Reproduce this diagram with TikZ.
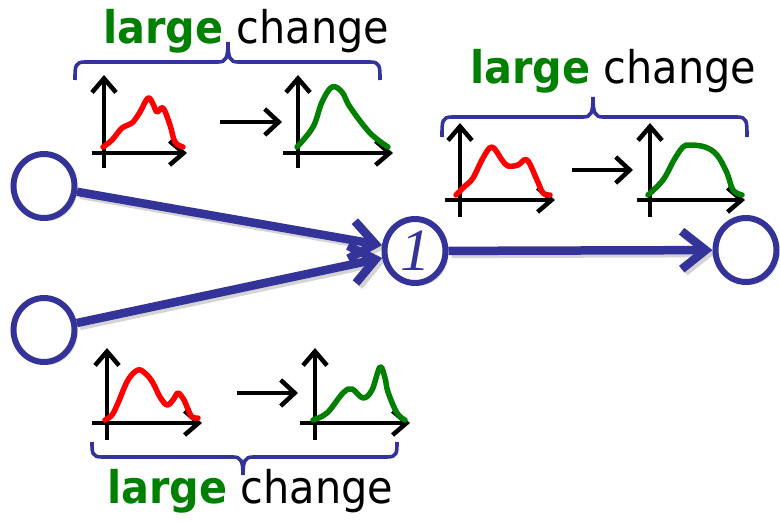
\documentclass[tikz,border=0pt]{standalone}
\usepackage{fontspec}
\usetikzlibrary{arrows.meta,shapes.geometric,shadows}
\newfontfamily\labfont{DejaVu Sans}
\newfontfamily\numfont{Liberation Serif}
\definecolor{nblue}{RGB}{51,51,153}
\definecolor{dgreen}{RGB}{0,128,0}
\definecolor{shade}{RGB}{212,212,212}
\pgfdeclarelayer{bg}
\pgfsetlayers{bg,main}
\tikzset{
  neuron/.style={ellipse, draw=nblue, line width=6pt, fill=white,
    minimum width=61pt, minimum height=64pt, inner sep=0pt,
    drop shadow={opacity=0.25, shadow xshift=3pt, shadow yshift=-3pt}},
  conn/.style={draw=nblue, line width=8.5pt, -{Straight Barb[length=24pt,width=38pt]}},
  connshadow/.style={draw=shade, line width=8.5pt, -{Straight Barb[length=24pt,width=38pt]},
    transform canvas={shift={(3pt,-3pt)}}},
  ax/.style={draw=black, line width=4.5pt, -{Straight Barb[length=14pt,width=24pt]}},
  chg/.style={draw=black, line width=4.5pt, -{Straight Barb[length=14pt,width=26pt]}},
  redc/.style={draw=red, line width=5.5pt, line cap=round, line join=round},
  grnc/.style={draw=dgreen, line width=5.5pt, line cap=round, line join=round},
  bracepath/.style={draw=nblue, line width=3.6pt},
  lab/.style={anchor=base west, inner sep=0pt, font=\labfont\fontsize{45}{50}\selectfont}
}
\newcommand{\lgchg}{\scalebox{0.92}[1]{\textcolor{dgreen}{\bfseries large} change}}
\begin{document}
\begin{tikzpicture}[x=1pt,y=-1pt]
\useasboundingbox (0,0) rectangle (780,522);
% neurons
\node[neuron] (in1) at (44,186) {};
\node[neuron] (in2) at (44,330) {};
\node[neuron] (mid) at (415,251) {\numfont\itshape\fontsize{60}{60}\selectfont\color{nblue}1};
\node[neuron] (out) at (746,250) {};
% connector shadows
\begin{pgfonlayer}{bg}
\draw[connshadow] (in1) -- (mid);
\draw[connshadow] (in2) -- (mid);
\draw[connshadow] (mid) -- (out);
\end{pgfonlayer}
% connectors
\draw[conn] (in1) -- (mid);
\draw[conn] (in2) -- (mid);
\draw[conn] (mid) -- (out);

% ---- top-left group ----
\draw[ax] (104,168) -- (104,75);
\draw[ax] (92,153) -- (187,153);
\draw[redc] plot[smooth,tension=0.6] coordinates {(103,147) (112,140) (122,128) (132,123) (140,112) (148,98) (153,104) (157,112) (163,108) (170,125) (175,142) (183,147)};
\draw[chg] (220,122) -- (282,122);
\draw[ax] (298,168) -- (298,75);
\draw[ax] (283,153) -- (393,153);
\draw[grnc] plot[smooth,tension=0.6] coordinates {(297,147) (313,127) (322,102) (332,87) (342,92) (350,107) (370,133) (388,147)};
\draw[bracepath] (75,80) .. controls (75,66) and (75,62) .. (85,62) -- (218,62) .. controls (226,62) and (228,58) .. (228,42) .. controls (228,58) and (230,62) .. (238,62) -- (370,62) .. controls (380,62) and (380,66) .. (380,80);
\node[lab] (t1) at (103,43) {\lgchg};

% ---- top-right group ----
\draw[ax] (460,217) -- (460,123);
\draw[ax] (445,200) -- (555,200);
\draw[redc] plot[smooth,tension=0.6] coordinates {(456,195) (465,186) (473,178) (483,158) (492,147) (502,160) (508,166) (518,165) (527,160) (537,180) (543,193) (550,195)};
\draw[chg] (572,170) -- (633,170);
\draw[ax] (650,217) -- (650,123);
\draw[ax] (637,200) -- (745,200);
\draw[grnc] plot[smooth,tension=0.6] coordinates {(648,195) (663,180) (674,160) (683,147) (690,145) (705,147) (717,155) (727,173) (733,190) (742,195)};
\draw[bracepath] (442,137) .. controls (442,121) and (442,117) .. (452,117) -- (583,117) .. controls (591,117) and (593,113) .. (593,97) .. controls (593,113) and (595,117) .. (603,117) -- (737,117) .. controls (747,117) and (747,121) .. (747,137);
\node[lab] (t2) at (470,83) {\lgchg};

% ---- bottom group ----
\draw[ax] (107,440) -- (107,348);
\draw[ax] (92,423) -- (202,423);
\draw[redc] plot[smooth,tension=0.6] coordinates {(105,420) (112,415) (118,403) (128,380) (138,370) (146,374) (153,383) (160,397) (167,405) (173,400) (178,393) (184,400) (187,407) (192,417) (198,418)};
\draw[chg] (237,393) -- (298,393);
\draw[ax] (315,440) -- (315,348);
\draw[ax] (300,423) -- (410,423);
\draw[grnc] plot[smooth,tension=0.6] coordinates {(313,420) (327,413) (343,393) (352,389) (363,398) (372,390) (380,367) (385,378) (388,392) (397,413) (405,420)};
\draw[bracepath] (92,442) .. controls (92,453) and (92,457) .. (102,457) -- (233,457) .. controls (241,457) and (243,461) .. (243,475) .. controls (243,461) and (245,457) .. (253,457) -- (387,457) .. controls (397,457) and (397,453) .. (397,442);
\node[lab] (t3) at (107,503) {\lgchg};
\end{tikzpicture}
\end{document}
